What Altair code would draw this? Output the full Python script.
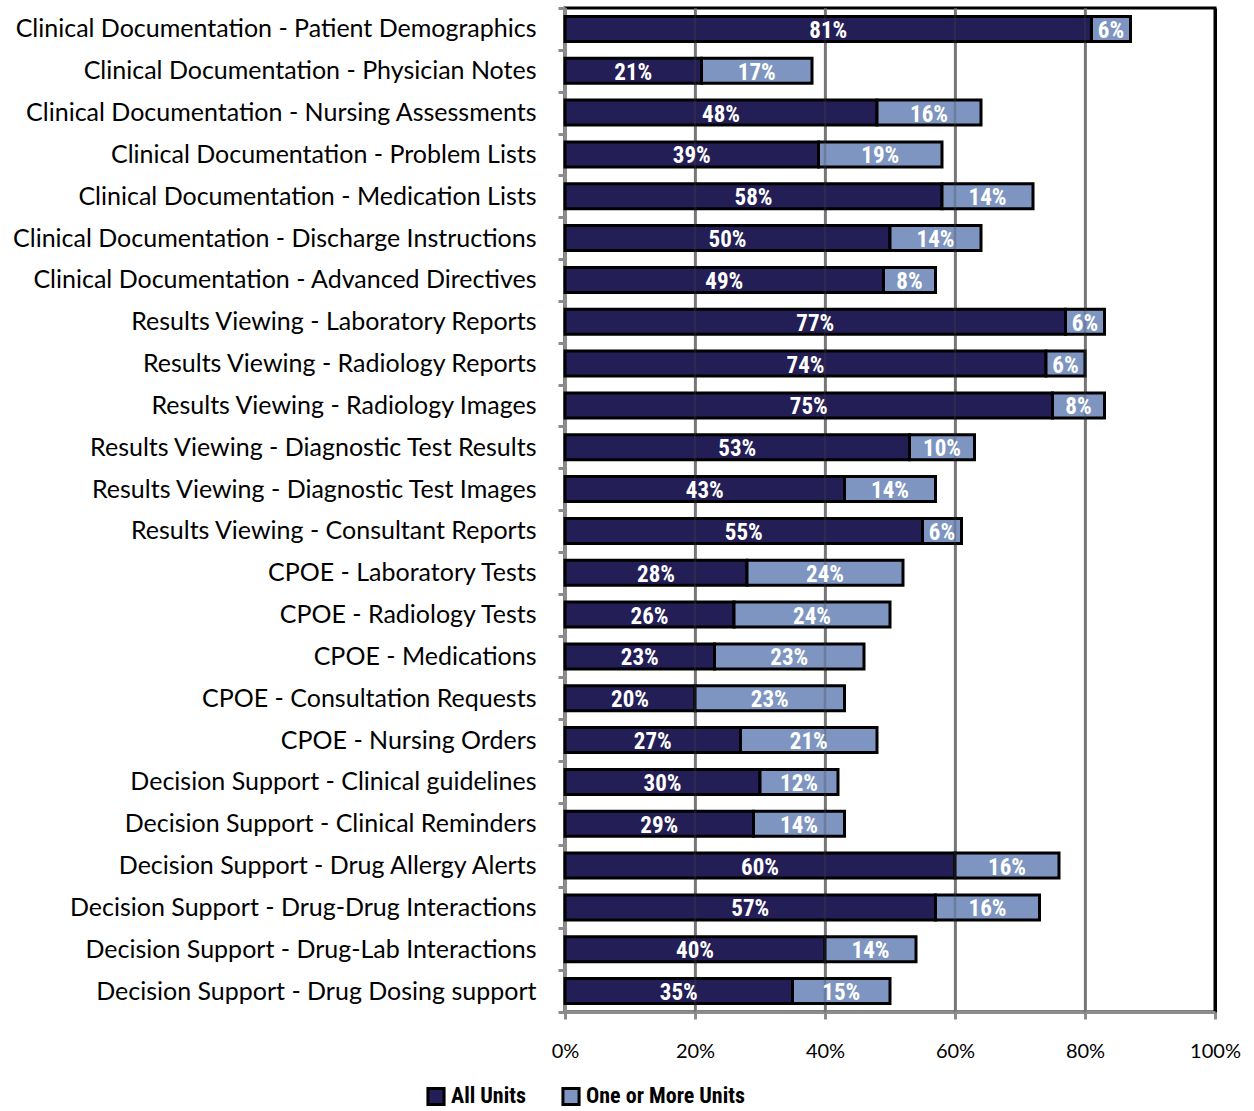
import altair as alt
import pandas as pd

# Share of hospitals with each EHR function, by deployment extent (%)
categories = [
    "Clinical Documentation - Patient Demographics",
    "Clinical Documentation - Physician Notes",
    "Clinical Documentation - Nursing Assessments",
    "Clinical Documentation - Problem Lists",
    "Clinical Documentation - Medication Lists",
    "Clinical Documentation - Discharge Instructions",
    "Clinical Documentation - Advanced Directives",
    "Results Viewing - Laboratory Reports",
    "Results Viewing - Radiology Reports",
    "Results Viewing - Radiology Images",
    "Results Viewing - Diagnostic Test Results",
    "Results Viewing - Diagnostic Test Images",
    "Results Viewing - Consultant Reports",
    "CPOE - Laboratory Tests",
    "CPOE - Radiology Tests",
    "CPOE - Medications",
    "CPOE - Consultation Requests",
    "CPOE - Nursing Orders",
    "Decision Support - Clinical guidelines",
    "Decision Support - Clinical Reminders",
    "Decision Support - Drug Allergy Alerts",
    "Decision Support - Drug-Drug Interactions",
    "Decision Support - Drug-Lab Interactions",
    "Decision Support - Drug Dosing support",
]
all_units = [81, 21, 48, 39, 58, 50, 49, 77, 74, 75, 53, 43, 55,
             28, 26, 23, 20, 27, 30, 29, 60, 57, 40, 35]
more_units = [6, 17, 16, 19, 14, 14, 8, 6, 6, 8, 10, 14, 6,
              24, 24, 23, 23, 21, 12, 14, 16, 16, 14, 15]
series_names = ["All Units", "One or More Units"]
series_colors = ["#231E55", "#7D95C0"]
tick_values = [0, 0.2, 0.4, 0.6, 0.8, 1.0]
inner_grid = [0.2, 0.4, 0.6, 0.8]

NARROW = "Roboto Condensed, DejaVu Sans Condensed, Liberation Sans Narrow, Arial Narrow, sans-serif"

rows = []
for cat, a, m in zip(categories, all_units, more_units):
    rows.append({"category": cat, "series": series_names[0],
                 "start": 0.0, "end": a / 100, "value": a})
    rows.append({"category": cat, "series": series_names[1],
                 "start": a / 100, "end": (a + m) / 100, "value": m})
df = pd.DataFrame(rows)
df["mid"] = (df["start"] + df["end"]) / 2
df["label"] = df["value"].astype(str) + "%"

x_scale = alt.Scale(domain=[0, 1], nice=False)
y_scale = alt.Scale(paddingInner=0, paddingOuter=0)

x_axis = alt.Axis(
    values=tick_values, format=".0%",
    domainColor="#8C8C8C", domainWidth=3,
    tickColor="#8C8C8C", tickWidth=3, tickSize=7,
    grid=True, gridWidth=3,
    gridColor={"condition": {"test": "datum.value >= 1", "value": "#000000"},
               "value": "#8C8C8C"},
    labelFont="Lato", labelFontSize=20, labelColor="#000000",
    labelPadding=22, labelFlush=False,
)

y_enc = alt.Y(
    "category:N", sort=categories, title=None, scale=y_scale,
    axis=alt.Axis(
        domainColor="#8C8C8C", domainWidth=3,
        tickColor="#8C8C8C", tickWidth=3, tickSize=7, tickBand="extent",
        labelFont="Lato", labelFontSize=25, labelColor="#000000",
        labelPadding=22, labelLimit=0, grid=False,
    ),
)

bars = alt.Chart(df).mark_bar(
    stroke="black", strokeWidth=3, size=25
).encode(
    x=alt.X("start:Q", scale=x_scale, title=None, axis=x_axis),
    x2="end:Q",
    y=y_enc,
    color=alt.Color(
        "series:N",
        scale=alt.Scale(domain=series_names, range=series_colors),
        legend=alt.Legend(
            title=None, orient="none", direction="horizontal",
            legendX=-140, legendY=1077,
            symbolType="square", symbolSize=260,
            symbolStrokeColor="black", symbolStrokeWidth=3,
            labelFont=NARROW, labelFontWeight="bold",
            labelFontSize=22, labelColor="#000000", labelLimit=0,
            columnPadding=30,
        ),
    ),
)

# faint gridlines showing through the bars
grid_overlay = alt.Chart(pd.DataFrame({"g": inner_grid})).mark_rule(
    color="#444444", strokeWidth=2.5, opacity=0.3
).encode(x=alt.X("g:Q", scale=x_scale, title=None, axis=x_axis))

labels = alt.Chart(df).mark_text(
    color="white", font=NARROW, fontWeight="bold",
    fontSize=23, baseline="middle", dy=2,
).encode(
    x=alt.X("mid:Q", scale=x_scale, title=None, axis=x_axis),
    y=alt.Y("category:N", sort=categories, scale=y_scale),
    text="label:N",
)

chart = alt.layer(bars, grid_overlay, labels).properties(
    width=650, height=1004,
    autosize=alt.AutoSizeParams(type="none"),
    padding={"left": 565, "top": 8, "right": 39, "bottom": 99},
).configure_view(stroke="black", strokeWidth=3)

chart.save("out.html", embed_options={"renderer": "svg", "actions": False})
